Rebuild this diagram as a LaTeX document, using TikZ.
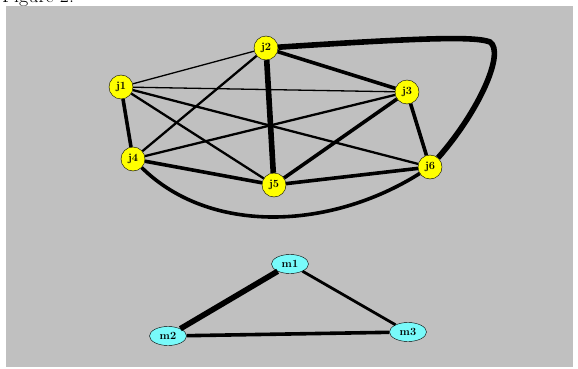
\documentclass[tikz,border=0pt]{standalone}
\usetikzlibrary{shapes.geometric}
\definecolor{panel}{RGB}{192,192,192}
\definecolor{jyellow}{RGB}{255,255,0}
\definecolor{mcyan}{RGB}{120,250,250}
\begin{document}
\begin{tikzpicture}[x=1pt, y=-1pt,
    jnode/.style={draw, circle, fill=jyellow, inner sep=0pt, minimum size=24pt, font=\bfseries\fontsize{11}{12}\selectfont},
    mnode/.style={draw, ellipse, fill=mcyan, inner sep=0pt, minimum width=37pt, minimum height=19pt, font=\bfseries\fontsize{11}{12}\selectfont},
    thin edge/.style={line width=1.3pt},
    mid edge/.style={line width=2.3pt},
    thick edge/.style={line width=3.6pt},
    heavy edge/.style={line width=5.6pt}]
    \useasboundingbox (0,0) rectangle (578,369);
    \clip (0,0) rectangle (578,369);
    \node[anchor=base west, inner sep=0pt, font=\fontsize{20}{24}\selectfont] (caption) at (2,3) {Figure 2:};
    \fill[panel] (6,6) rectangle (573,367);
    % job nodes
    \foreach \n/\x/\y in {j1/121/87, j2/266/48, j3/407/92, j4/133/159, j5/274/185, j6/430/167} {
        \node[jnode] (\n) at (\x,\y) {\n};
    }
    % machine nodes
    \foreach \n/\x/\y in {m1/290/264, m2/168/336, m3/408/332} {
        \node[mnode] (\n) at (\x,\y) {\n};
    }
    \draw[thin edge] (j1) -- (j2);
    \draw[thin edge] (j1) -- (j3);
    \draw[thick edge] (j1) -- (j4);
    \draw[mid edge] (j1) -- (j5);
    \draw[mid edge] (j1) -- (j6);
    \draw[thick edge] (j2) -- (j3);
    \draw[mid edge] (j2) -- (j4);
    \draw[heavy edge] (j2) -- (j5);
    \draw[heavy edge] (j2) .. controls (420,38) and (475,36) .. (490,42) .. controls (505,52) and (480,110) .. (j6);
    \draw[mid edge] (j3) -- (j4);
    \draw[thick edge] (j3) -- (j5);
    \draw[thick edge] (j3) -- (j6);
    \draw[thick edge] (j4) -- (j5);
    \draw[thick edge] (j4) .. controls (210,235) and (330,230) .. (j6);
    \draw[thick edge] (j5) -- (j6);
    \draw[heavy edge] (m1) -- (m2);
    \draw[line width=2.8pt] (m1) -- (m3);
    \draw[thick edge] (m2) -- (m3);
\end{tikzpicture}
\end{document}
